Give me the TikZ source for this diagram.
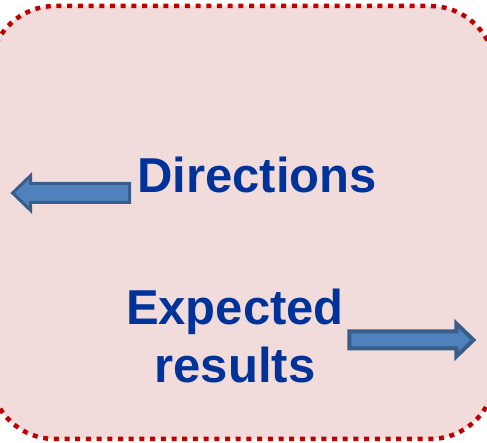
\documentclass[tikz,border=0pt]{standalone}
\usepackage{fontspec}
\setmainfont{Liberation Sans}
\usetikzlibrary{shapes,arrows,positioning,calc}
\definecolor{panelfill}{HTML}{F2DCDB}
\definecolor{panelborder}{HTML}{C00000}
\definecolor{labelblue}{HTML}{003399}
\definecolor{arrowfill}{HTML}{4F81BD}
\definecolor{arrowborder}{HTML}{385D8A}

\begin{document}
\begin{tikzpicture}[x=1pt, y=1pt,
        biglabel/.style={font=\fontsize{49}{58}\selectfont\bfseries, text=labelblue, inner sep=0pt},
        blockarrow/.style={single arrow, draw=arrowborder, fill=arrowfill, line width=3pt,
              single arrow tip angle=88, inner xsep=0pt, anchor=center}]
        \useasboundingbox (0,0) rectangle (487,443);
        % panel
        \draw[fill=panelfill, draw=panelborder, line width=4.5pt,
              dash pattern=on 5pt off 5.7pt, rounded corners=65pt]
              (-10,4) rectangle (495,437);
        % labels
        \node[biglabel, anchor=base] (directions) at (257,250) {Directions};
        \node[biglabel, anchor=base, align=center] (expected) at (235,60)
              {Expected\\results};
        % arrows
        \node[blockarrow, shape border rotate=180, minimum height=117pt, inner ysep=8pt,
              single arrow head extend=8pt] (back) at (76,250) {};
        \node[blockarrow, line width=4pt, minimum height=124pt, inner ysep=6.5pt,
              single arrow head extend=8pt] (forward) at (407,103) {};
    \end{tikzpicture}
\end{document}
